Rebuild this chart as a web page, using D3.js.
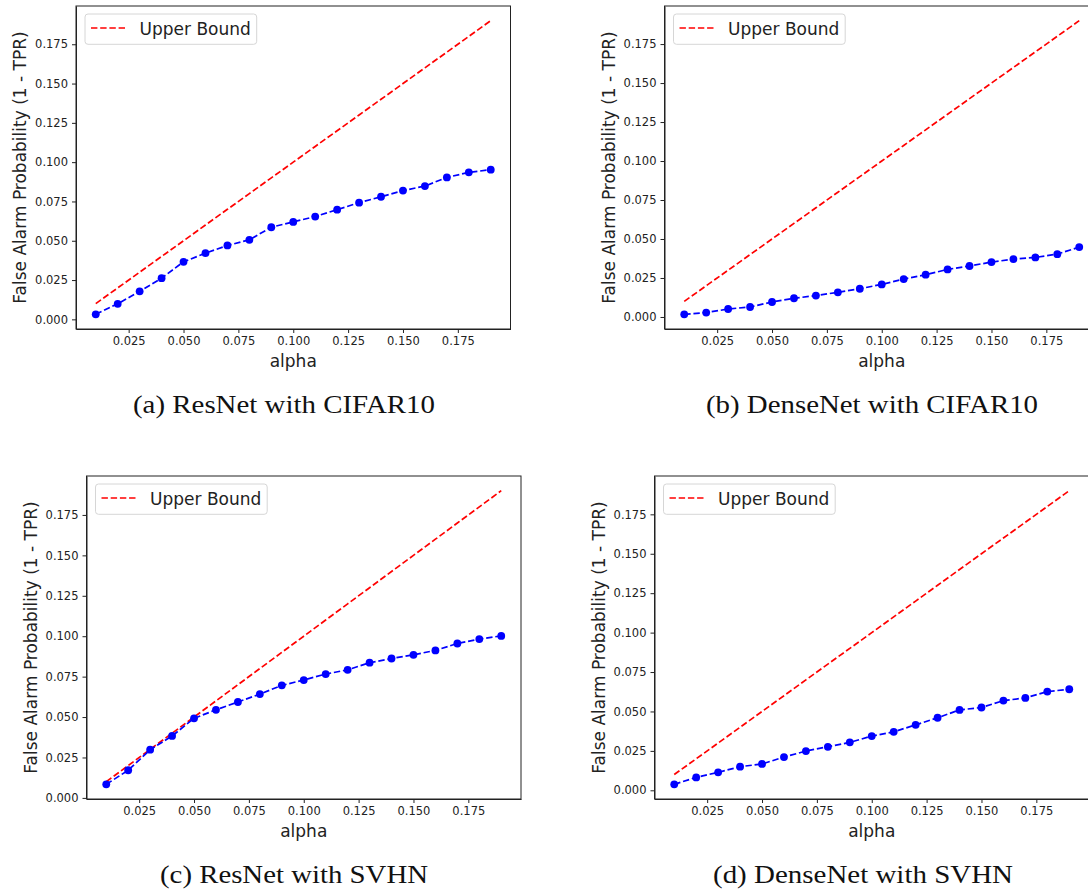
<!DOCTYPE html>
<html lang="en">
<head>
    <meta charset="UTF-8">
    <title>False alarm probability vs alpha</title>
    <script src="https://d3js.org/d3.v7.min.js"></script>
    <style>
        body { margin: 0; background: #fff; }
        svg { display: block; }
        .axis path, .axis line { stroke: #222; stroke-width: 1px; }
        .axis text { fill: #222; font-family: "DejaVu Sans", sans-serif; font-size: 11.5px; }
    </style>
</head>
<body>
    <div id="chart"></div>
    <script>
        // alpha values on the x axis
        const alpha = [0.01, 0.02, 0.03, 0.04, 0.05, 0.06, 0.07, 0.08, 0.09, 0.10,
                       0.11, 0.12, 0.13, 0.14, 0.15, 0.16, 0.17, 0.18, 0.19];
        // red dashed line: upper bound = alpha
        const upperBound = [0.01, 0.02, 0.03, 0.04, 0.05, 0.06, 0.07, 0.08, 0.09, 0.10,
                            0.11, 0.12, 0.13, 0.14, 0.15, 0.16, 0.17, 0.18, 0.19];

        const resnetCifar = [0.0032, 0.0099, 0.0178, 0.0262, 0.0366, 0.0421, 0.0470, 0.0506, 0.0586, 0.0620,
                             0.0654, 0.0698, 0.0742, 0.0780, 0.0819, 0.0848, 0.0903, 0.0935, 0.0952];
        const densenetCifar = [0.0017, 0.0028, 0.0051, 0.0064, 0.0096, 0.0120, 0.0137, 0.0158, 0.0181, 0.0209,
                               0.0243, 0.0271, 0.0305, 0.0327, 0.0352, 0.0371, 0.0382, 0.0403, 0.0448];
        const resnetSvhn = [0.0084, 0.0171, 0.0298, 0.0383, 0.0492, 0.0545, 0.0593, 0.0642, 0.0696, 0.0729,
                            0.0766, 0.0792, 0.0836, 0.0862, 0.0885, 0.0912, 0.0955, 0.0982, 0.1002];
        const densenetSvhn = [0.0038, 0.0082, 0.0114, 0.0150, 0.0167, 0.0211, 0.0249, 0.0276, 0.0304, 0.0344,
                              0.0371, 0.0415, 0.0460, 0.0510, 0.0525, 0.0569, 0.0586, 0.0626, 0.0641];

        const xTicks = [0.025, 0.050, 0.075, 0.100, 0.125, 0.150, 0.175];
        const yTicks = [0.000, 0.025, 0.050, 0.075, 0.100, 0.125, 0.150, 0.175];
        const captions = ["(a) ResNet with CIFAR10", "(b) DenseNet with CIFAR10",
                          "(c) ResNet with SVHN", "(d) DenseNet with SVHN"];

        const W = 1088, H = 890;
        const svg = d3.select("#chart").append("svg").attr("width", W).attr("height", H);

        const plotW = 434.5, plotH = 323;
        const panels = [
            {left: 76,    top: 6,   values: resnetCifar,   caption: captions[0], capX: 284, capW: 302},
            {left: 664.5, top: 6,   values: densenetCifar, caption: captions[1], capX: 872, capW: 332},
            {left: 86.5,  top: 476, values: resnetSvhn,    caption: captions[2], capX: 294, capW: 268},
            {left: 654.5, top: 476, values: densenetSvhn,  caption: captions[3], capX: 863, capW: 300}
        ];

        // matplotlib-like autoscale with 5% margins
        function padded(lo, hi) {
            const m = (hi - lo) * 0.05;
            return [lo - m, hi + m];
        }

        function drawPanel(p) {
            const g = svg.append("g").attr("transform", `translate(${p.left},${p.top})`);

            const x = d3.scaleLinear().domain(padded(d3.min(alpha), d3.max(alpha))).range([0, plotW]);
            const yLo = Math.min(d3.min(p.values), d3.min(upperBound));
            const yHi = Math.max(d3.max(p.values), d3.max(upperBound));
            const y = d3.scaleLinear().domain(padded(yLo, yHi)).range([plotH, 0]);

            const fmt = d3.format(".3f");

            g.append("g").attr("class", "axis")
             .attr("transform", `translate(0,${plotH})`)
             .call(d3.axisBottom(x).tickValues(xTicks).tickFormat(fmt).tickSize(4).tickPadding(4).tickSizeOuter(0));

            g.append("g").attr("class", "axis")
             .call(d3.axisLeft(y).tickValues(yTicks).tickFormat(fmt).tickSize(4).tickPadding(4).tickSizeOuter(0));

            // frame
            g.append("rect")
             .attr("width", plotW).attr("height", plotH)
             .attr("fill", "none").attr("stroke", "#222").attr("stroke-width", 1);

            const rows = alpha.map((a, i) => ({a: a, ub: upperBound[i], v: p.values[i]}));

            g.append("path")
             .datum(rows)
             .attr("fill", "none")
             .attr("stroke", "#ff0000")
             .attr("stroke-width", 1.7)
             .attr("stroke-dasharray", "6.4,2.8")
             .attr("d", d3.line().x(d => x(d.a)).y(d => y(d.ub)));

            g.append("path")
             .datum(rows)
             .attr("fill", "none")
             .attr("stroke", "#0000ff")
             .attr("stroke-width", 1.7)
             .attr("stroke-dasharray", "6.4,2.8")
             .attr("d", d3.line().x(d => x(d.a)).y(d => y(d.v)));

            g.selectAll(".dot")
             .data(rows)
             .enter().append("circle")
             .attr("class", "dot")
             .attr("cx", d => x(d.a))
             .attr("cy", d => y(d.v))
             .attr("r", 3.9)
             .attr("fill", "#0000ff");

            // legend
            const lg = g.append("g").attr("transform", "translate(9,8)");
            lg.append("rect")
              .attr("width", 171.7).attr("height", 30.3)
              .attr("rx", 3)
              .attr("fill", "#fff").attr("stroke", "#d6d6d6").attr("stroke-width", 1);
            lg.append("line")
              .attr("x1", 6).attr("x2", 40).attr("y1", 14).attr("y2", 14)
              .attr("stroke", "#ff0000").attr("stroke-width", 1.7)
              .attr("stroke-dasharray", "6.4,2.8");
            lg.append("text")
              .attr("x", 54.5).attr("y", 21)
              .style("font-family", "DejaVu Sans, sans-serif")
              .style("font-size", "17px")
              .style("fill", "#222")
              .text("Upper Bound");

            // axis labels
            g.append("text")
             .attr("x", plotW / 2).attr("y", plotH + 38)
             .attr("text-anchor", "middle")
             .style("font-family", "DejaVu Sans, sans-serif")
             .style("font-size", "17px")
             .style("fill", "#222")
             .text("alpha");

            g.append("text")
             .attr("transform", `translate(-50,${plotH / 2}) rotate(-90)`)
             .attr("text-anchor", "middle")
             .style("font-family", "DejaVu Sans, sans-serif")
             .style("font-size", "17px")
             .style("fill", "#222")
             .text("False Alarm Probability (1 - TPR)");

            // caption under the subplot
            svg.append("text")
               .attr("x", p.capX).attr("y", p.top + 407)
               .attr("text-anchor", "middle")
               .attr("textLength", p.capW)
               .attr("lengthAdjust", "spacingAndGlyphs")
               .style("font-family", "Liberation Serif, serif")
               .style("font-size", "25px")
               .style("fill", "#111")
               .text(p.caption);
        }

        panels.forEach(drawPanel);
    </script>
</body>
</html>
